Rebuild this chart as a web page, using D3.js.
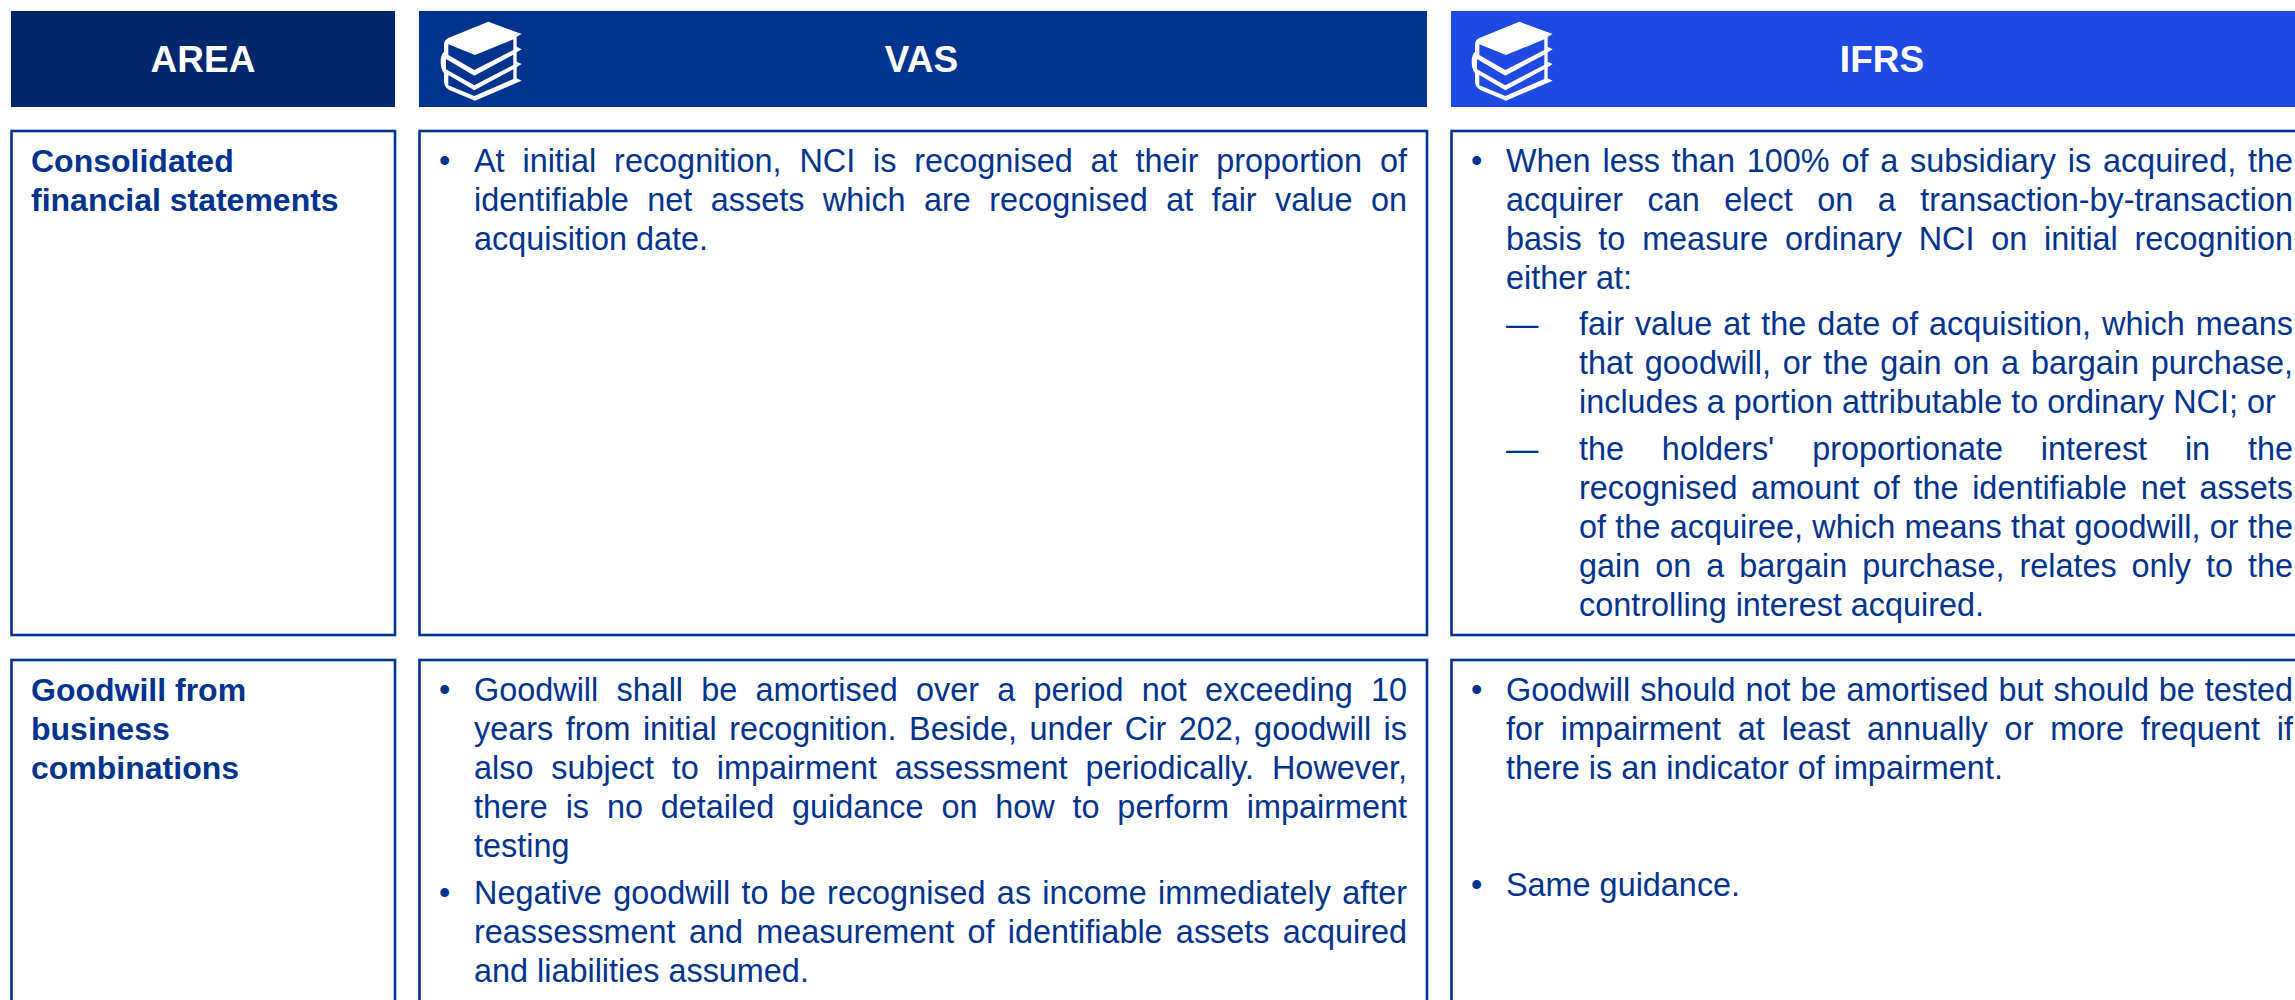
<html lang="en">
<head>
<style>
    html, body { margin: 0; padding: 0; background: #fff; overflow: hidden; }
    svg { display: block; }
    text { font-family: "Liberation Sans", Arial, sans-serif; }
</style>
</head>
<body>
</body>
<script type='text/javascript' src='https://d3js.org/d3.v7.min.js'></script>
<script>
    // header labels
    var headers = ["AREA", "VAS", "IFRS"];

    // row labels
    var areaRow1 = ["Consolidated", "financial statements"];
    var areaRow2 = ["Goodwill from", "business", "combinations"];

    // body text, one array per paragraph, one string per rendered line
    var vasRow1 = [
        ["At initial recognition, NCI is recognised at their proportion of",
         "identifiable net assets which are recognised at fair value on",
         "acquisition date."]
    ];
    var ifrsRow1 = [
        ["When less than 100% of a subsidiary is acquired, the",
         "acquirer can elect on a transaction-by-transaction",
         "basis to measure ordinary NCI on initial recognition",
         "either at:"],
        ["fair value at the date of acquisition, which means",
         "that goodwill, or the gain on a bargain purchase,",
         "includes a portion attributable to ordinary NCI; or"],
        ["the holders' proportionate interest in the",
         "recognised amount of the identifiable net assets",
         "of the acquiree, which means that goodwill, or the",
         "gain on a bargain purchase, relates only to the",
         "controlling interest acquired."]
    ];
    var vasRow2 = [
        ["Goodwill shall be amortised over a period not exceeding 10",
         "years from initial recognition. Beside, under Cir 202, goodwill is",
         "also subject to impairment assessment periodically. However,",
         "there is no detailed guidance on how to perform impairment",
         "testing"],
        ["Negative goodwill to be recognised as income immediately after",
         "reassessment and measurement of identifiable assets acquired",
         "and liabilities assumed."]
    ];
    var ifrsRow2 = [
        ["Goodwill should not be amortised but should be tested",
         "for impairment at least annually or more frequent if",
         "there is an indicator of impairment."],
        ["Same guidance."]
    ];

    var width = 2295, height = 1000;
    var fontSize = 32.4, boldSize = 32, lineHeight = 39;
    var navy = "#00338D";

    var colLeft = [11, 419, 1451];
    var colRight = [395, 1427, 2313];
    var headerFill = ["#00266C", "#00338D", "#1E49E2"];
    var headerCentre = [203, 921.5, 1882];

    var svg = d3.select("body").append("svg")
        .attr("width", width)
        .attr("height", height);

    // header bars
    svg.selectAll("rect.head")
        .data(headers)
        .enter().append("rect")
        .attr("class", "head")
        .attr("x", function(d, i) { return colLeft[i]; })
        .attr("y", 11)
        .attr("width", function(d, i) { return colRight[i] - colLeft[i]; })
        .attr("height", 96)
        .attr("fill", function(d, i) { return headerFill[i]; });

    svg.selectAll("text.head")
        .data(headers)
        .enter().append("text")
        .attr("class", "head")
        .attr("x", function(d, i) { return headerCentre[i]; })
        .attr("y", 72)
        .attr("text-anchor", "middle")
        .attr("font-size", 37)
        .attr("font-weight", "bold")
        .attr("fill", "#fff")
        .text(function(d) { return d; });

    // book icons, drawn in the 3x units of the zoomed crop
    function drawBooks(x, fill) {
        var g = svg.append("g")
            .attr("transform", "translate(" + x + ",10) scale(0.3333)");
        g.append("path")
            .attr("fill", "#fff")
            .attr("d", "M205,35 L305,72 L290,80 L290,110 L305,118 L290,127 L290,155 L305,162 L290,172 L290,205 L305,212 L165,272 L88,240 Q72,232 72,212 L72,190 Q62,178 62,155 Q62,135 72,125 L72,105 Q72,90 85,84 Z");
        var bands = [
            "M85,103 L165,135 L280,88 L280,120 L163,180 L85,135 Z",
            "M78,147 L163,197 L280,134 L280,165 L163,226 L78,178 Z",
            "M85,195 L163,241 L280,178 L280,207 L163,258 L85,226 Z"
        ];
        g.selectAll("path.band")
            .data(bands)
            .enter().append("path")
            .attr("class", "band")
            .attr("fill", fill)
            .attr("d", function(d) { return d; });
    }
    drawBooks(420, headerFill[1]);
    drawBooks(1451, headerFill[2]);

    // row boxes
    var rowTop = [131, 660];
    var rowBottom = [635, 1012];
    var boxLeft = [11.5, 419.5, 1451.5];
    boxLeft.forEach(function(l, c) {
        rowTop.forEach(function(t, r) {
            svg.append("rect")
                .attr("x", l)
                .attr("y", t)
                .attr("width", colRight[c] - l)
                .attr("height", rowBottom[r] - t)
                .attr("fill", "#fff")
                .attr("stroke", navy)
                .attr("stroke-width", 2.6);
        });
    });

    // text helpers
    function drawLines(lines, x, y0, right, bold) {
        var sel = svg.append("g").selectAll("text")
            .data(lines)
            .enter().append("text")
            .attr("x", x)
            .attr("y", function(d, i) { return y0 + i * lineHeight; })
            .attr("font-size", bold ? boldSize : fontSize)
            .attr("font-weight", bold ? "bold" : "normal")
            .attr("fill", navy)
            .text(function(d) { return d; });
        if (right) {
            sel.each(function(d, i) {
                if (i == lines.length - 1) return;
                var gaps = d.split(" ").length - 1;
                var w = this.getComputedTextLength();
                d3.select(this).attr("word-spacing", (right - x - w) / gaps);
            });
        }
    }

    function drawMarker(ch, x, y) {
        svg.append("text")
            .attr("x", x)
            .attr("y", y)
            .attr("font-size", fontSize)
            .attr("fill", navy)
            .text(ch);
    }

    drawLines(areaRow1, 31, 171.5, null, true);
    drawLines(areaRow2, 31, 700.5, null, true);

    // VAS column
    var vasX = 474, vasRight = 1407, vasBullet = 439;
    drawMarker("•", vasBullet, 171.5);
    drawLines(vasRow1[0], vasX, 171.5, vasRight);
    var vasRow2Y = [700.5, 904];
    vasRow2.forEach(function(p, i) {
        drawMarker("•", vasBullet, vasRow2Y[i]);
        drawLines(p, vasX, vasRow2Y[i], vasRight);
    });

    // IFRS column
    var ifrsX = 1506, ifrsSubX = 1579, ifrsRight = 2293, ifrsBullet = 1471;
    var ifrsRow1Y = [171.5, 335, 460];
    drawMarker("•", ifrsBullet, ifrsRow1Y[0]);
    drawLines(ifrsRow1[0], ifrsX, ifrsRow1Y[0], ifrsRight);
    drawMarker("—", ifrsX, ifrsRow1Y[1]);
    drawLines(ifrsRow1[1], ifrsSubX, ifrsRow1Y[1], ifrsRight);
    drawMarker("—", ifrsX, ifrsRow1Y[2]);
    drawLines(ifrsRow1[2], ifrsSubX, ifrsRow1Y[2], ifrsRight);
    var ifrsRow2Y = [700.5, 896];
    ifrsRow2.forEach(function(p, i) {
        drawMarker("•", ifrsBullet, ifrsRow2Y[i]);
        drawLines(p, ifrsX, ifrsRow2Y[i], ifrsRight);
    });
</script>
</html>
